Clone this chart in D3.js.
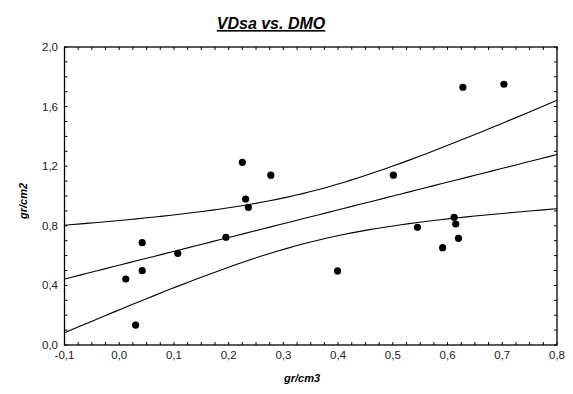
<!DOCTYPE html>
<html>
<head>
<meta charset="utf-8">
<script src="https://cdn.jsdelivr.net/npm/d3@7"></script>
<style>
  body { margin: 0; background: #fff; }
  text { font-family: "Liberation Sans", Arial, sans-serif; }
</style>
</head>
<body>
<div id="chart"></div>
<script>
// points (x = gr/cm3, y = gr/cm2)
const dmo  = [0.628, 0.703, 0.225, 0.277, 0.231, 0.236, 0.195, 0.042, 0.107, 0.012, 0.042, 0.030, 0.501, 0.545, 0.612, 0.615, 0.620, 0.591, 0.399];
const vdsa = [1.730, 1.750, 1.226, 1.140, 0.980, 0.924, 0.723, 0.687, 0.615, 0.443, 0.499, 0.134, 1.140, 0.790, 0.857, 0.812, 0.716, 0.653, 0.497];
const xTicks = [-0.1, 0, 0.1, 0.2, 0.3, 0.4, 0.5, 0.6, 0.7, 0.8];
const yTicks = [0, 0.4, 0.8, 1.2, 1.6, 2.0];
const tCrit = 2.1098; // t(0.975, n-2 = 17)

const width = 573, height = 394;
const plotL = 64.5, plotR = 557, plotT = 47, plotB = 345;

const svg = d3.select("#chart").append("svg")
    .attr("width", width)
    .attr("height", height);

const x = d3.scaleLinear().domain([-0.1, 0.8]).range([plotL, plotR]);
const y = d3.scaleLinear().domain([0, 2.0]).range([plotB, plotT]);

const fmt = d => d3.format(".1f")(d).replace(".", ",").replace("\u2212", "-");

// linear regression + 95% confidence band of the mean
const n = dmo.length;
const mx = d3.mean(dmo), my = d3.mean(vdsa);
const sxx = d3.sum(dmo, d => (d - mx) ** 2);
const sxy = d3.sum(dmo, (d, i) => (d - mx) * (vdsa[i] - my));
const slope = sxy / sxx;
const icpt = my - slope * mx;
const sse = d3.sum(dmo, (d, i) => (vdsa[i] - (icpt + slope * d)) ** 2);
const s = Math.sqrt(sse / (n - 2));

const xs = d3.range(0, 61).map(i => -0.1 + i * 0.9 / 60);
const band = xs.map(v => {
    const fit = icpt + slope * v;
    const half = tCrit * s * Math.sqrt(1 / n + (v - mx) ** 2 / sxx);
    return { x: v, fit: fit, lo: fit - half, hi: fit + half };
});

const g = svg.append("g");

// ticks, inward, on all four sides
const xMinor = d3.range(0, 37).map(i => -0.1 + i * 0.025);
const yMinor = d3.range(0, 21).map(i => i * 0.1);

g.selectAll(".xtb").data(xMinor).join("line")
    .attr("x1", d => x(d)).attr("x2", d => x(d))
    .attr("y1", plotB).attr("y2", plotB - 3)
    .attr("stroke", "#000");
g.selectAll(".xtt").data(xMinor).join("line")
    .attr("x1", d => x(d)).attr("x2", d => x(d))
    .attr("y1", plotT).attr("y2", plotT + 3)
    .attr("stroke", "#000");
g.selectAll(".ytl").data(yMinor).join("line")
    .attr("x1", plotL).attr("x2", plotL + 3)
    .attr("y1", d => y(d)).attr("y2", d => y(d))
    .attr("stroke", "#000");
g.selectAll(".ytr").data(yMinor).join("line")
    .attr("x1", plotR).attr("x2", plotR - 3)
    .attr("y1", d => y(d)).attr("y2", d => y(d))
    .attr("stroke", "#000");

// frame
g.append("rect")
    .attr("x", plotL).attr("y", plotT)
    .attr("width", plotR - plotL).attr("height", plotB - plotT)
    .attr("fill", "none")
    .attr("stroke", "#000")
    .attr("stroke-width", 1.3);

// tick labels
g.selectAll(".xl").data(xTicks).join("text")
    .attr("x", d => x(d))
    .attr("y", 359)
    .attr("text-anchor", "middle")
    .attr("font-size", 11.5)
    .attr("fill", "#222")
    .text(fmt);

g.selectAll(".yl").data(yTicks).join("text")
    .attr("x", 58)
    .attr("y", d => y(d) + 4)
    .attr("text-anchor", "end")
    .attr("font-size", 11.5)
    .attr("fill", "#222")
    .text(fmt);

// regression lines
const plot = g.append("g");
const lineOf = key => d3.line().x(d => x(d.x)).y(d => y(d[key]));
["fit", "lo", "hi"].forEach(k => {
    plot.append("path")
        .datum(band)
        .attr("d", lineOf(k))
        .attr("fill", "none")
        .attr("stroke", "#000")
        .attr("stroke-width", 1.1);
});

// points
plot.selectAll("circle")
    .data(dmo.map((d, i) => [d, vdsa[i]]))
    .join("circle")
    .attr("cx", d => x(d[0]))
    .attr("cy", d => y(d[1]))
    .attr("r", 3.6)
    .attr("fill", "#000");

// titles
svg.append("text")
    .attr("x", 271)
    .attr("y", 29)
    .attr("text-anchor", "middle")
    .attr("font-size", 16)
    .attr("font-weight", "bold")
    .attr("font-style", "italic")
    .attr("text-decoration", "underline")
    .text("VDsa vs. DMO");

svg.append("text")
    .attr("x", 302)
    .attr("y", 382)
    .attr("text-anchor", "middle")
    .attr("font-size", 11)
    .attr("font-weight", "bold")
    .attr("font-style", "italic")
    .text("gr/cm3");

svg.append("text")
    .attr("transform", "translate(27,201) rotate(-90)")
    .attr("text-anchor", "middle")
    .attr("font-size", 11)
    .attr("font-weight", "bold")
    .attr("font-style", "italic")
    .text("gr/cm2");
</script>
</body>
</html>
